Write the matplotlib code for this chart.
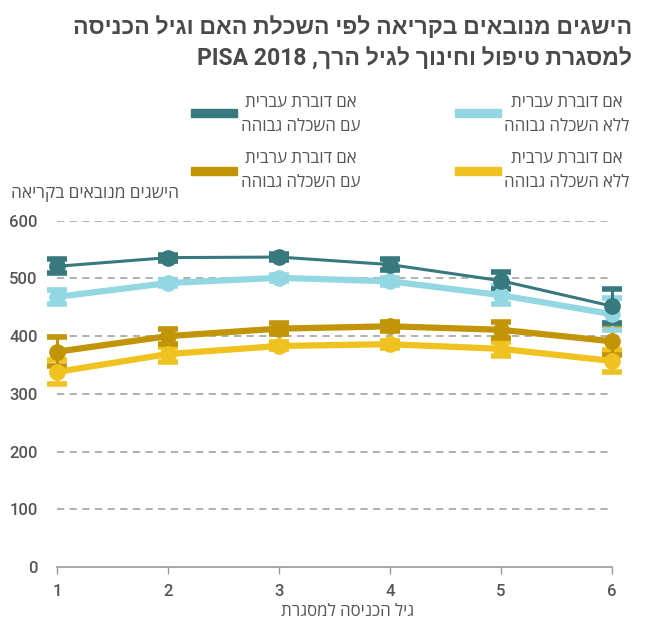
import matplotlib
matplotlib.use("Agg")
import matplotlib.pyplot as plt
from matplotlib.patches import Rectangle

plt.rcParams['font.family'] = ['Roboto', 'Open Sans', 'Liberation Sans', 'DejaVu Sans']

def vis(s):
    # visual (left-to-right) order for pure Hebrew text
    return s[::-1]

# ---- data ----
entry_age = [1, 2, 3, 4, 5, 6]
x_tick_labels = ["1", "2", "3", "4", "5", "6"]
y_ticks = [0, 100, 200, 300, 400, 500, 600]

heb_high = [521, 536, 537, 524, 496, 452]
heb_high_err = [12, 5, 5, 9, 15, 29]
heb_low = [468, 492, 501, 495, 471, 438]
heb_low_err = [12, 5, 5, 6, 16, 28]
arab_high = [373, 400, 413, 417, 411, 391]
arab_high_err = [25, 13, 9, 8, 14, 23]
arab_low = [338, 369, 383, 386, 378, 357]
arab_low_err = [21, 13, 6, 6, 12, 19]

series_names = [
    ("אם דוברת עברית", "ללא השכלה גבוהה"),
    ("אם דוברת עברית", "עם השכלה גבוהה"),
    ("אם דוברת ערבית", "ללא השכלה גבוהה"),
    ("אם דוברת ערבית", "עם השכלה גבוהה"),
]
title_line1 = "הישגים מנובאים בקריאה לפי השכלת האם וגיל הכניסה"
title_line2 = "למסגרת טיפול וחינוך לגיל הרך"
title_suffix = "PISA 2018"
y_label = "הישגים מנובאים בקריאה"
x_label = "גיל הכניסה למסגרת"

c_heb_low = "#93D7E3"
c_heb_high = "#38787F"
c_arab_low = "#EFC21F"
c_arab_high = "#C29407"
text_col = "#555555"
title_col = "#4A4A4A"

W, H = 652, 619
fig = plt.figure(figsize=(W / 100, H / 100), dpi=100)
ax = fig.add_axes([57 / W, 1 - 567 / H, (612 - 57) / W, (567 - 220.7) / H])

def draw(y, e, col, lw):
    ax.errorbar(entry_age, y, yerr=e, color=col, lw=lw, marker='o', ms=11,
                elinewidth=2.2, capsize=7.5, capthick=4, clip_on=False)

draw(arab_low, arab_low_err, c_arab_low, 4.5)
draw(arab_high, arab_high_err, c_arab_high, 4.5)
draw(heb_low, heb_low_err, c_heb_low, 4.5)
draw(heb_high, heb_high_err, c_heb_high, 2.2)

ax.set_xlim(1, 6)
ax.set_ylim(0, 600)
ax.set_yticks(y_ticks)
ax.set_xticks(entry_age)
ax.set_xticklabels(x_tick_labels)
for yv in y_ticks[1:]:
    ax.axhline(yv, color="#AAAAAA", lw=1.3, dashes=(4, 3), zorder=0)
for s in ["top", "right", "left"]:
    ax.spines[s].set_visible(False)
ax.spines["bottom"].set_color("#999999")
ax.spines["bottom"].set_linewidth(1.2)
ax.tick_params(axis='x', direction='out', length=5, color="#999999", width=1,
               labelsize=12, labelcolor=text_col, pad=7)
ax.tick_params(axis='y', length=0, labelsize=12, labelcolor=text_col, pad=14)
for lab in ax.get_xticklabels() + ax.get_yticklabels():
    lab.set_fontweight('medium')

# x label
fig.text(348 / W, 1 - 612 / H, vis(x_label), fontsize=12.2, color=text_col,
         ha='center', va='center')

# y label at top
fig.text(11 / W, 1 - 195 / H, vis(y_label), fontsize=12.5, color=text_col,
         ha='left', va='center')

# title
fig.text(632 / W, 1 - 28 / H, vis(title_line1), fontsize=16.6, fontweight='bold',
         color=title_col, ha='right', va='center')
fig.text(632 / W, 1 - 59 / H, title_suffix + " ," + vis(title_line2), fontsize=16.6,
         fontweight='bold', color=title_col, ha='right', va='center')

# legend
legend_pos = [  # (patch_x0, text_center, y_line1, y_line2, patch_y)
    (455, 567, 102, 126, 113),
    (191, 301, 102, 126, 113),
    (455, 567, 158, 182, 171),
    (191, 301, 158, 182, 171),
]
legend_cols = [c_heb_low, c_heb_high, c_arab_low, c_arab_high]
for (px, tx, y1, y2, py), col, (n1, n2) in zip(legend_pos, legend_cols, series_names):
    fig.patches.append(Rectangle((px / W, 1 - (py + 4) / H), 46 / W, 8 / H,
                                 transform=fig.transFigure, color=col))
    fig.text(tx / W, 1 - y1 / H, vis(n1), fontsize=12.2, color=text_col, ha='center', va='center')
    fig.text(tx / W, 1 - y2 / H, vis(n2), fontsize=12.2, color=text_col, ha='center', va='center')

fig.savefig("out.png", dpi=100)
